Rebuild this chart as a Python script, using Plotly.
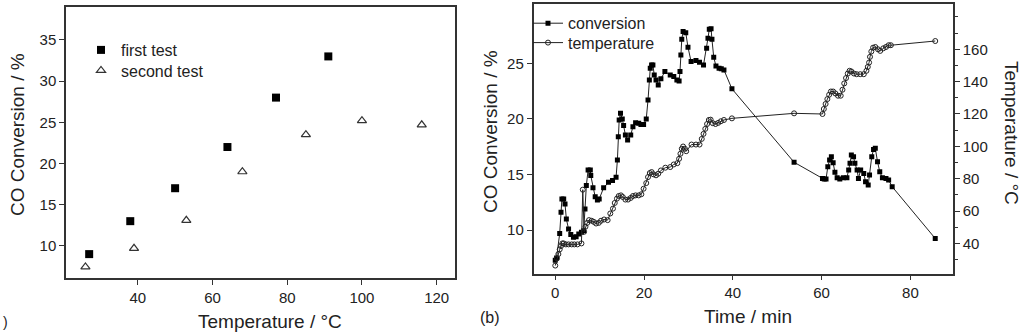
import plotly.graph_objects as go

# ---- panel (a) data ----
temp_first = [27, 38, 50, 64, 77, 91]
conv_first = [9.0, 13.0, 17.0, 22.0, 28.0, 33.0]
temp_second = [26, 39, 53, 68, 85, 100, 116]
conv_second = [7.45, 9.7, 13.1, 19.0, 23.5, 25.2, 24.7]

# ---- panel (b) data ----
time_conv = [0, 0.3, 1.0, 1.3, 1.5, 1.9, 2.2, 2.5, 3.0, 3.5, 4.1, 4.7, 5.3, 5.9, 6.4, 6.7, 7.0, 7.4, 7.9, 8.0,
             8.5, 9.0, 9.5, 9.9, 10.9, 12.0, 12.9, 13.7, 14.0, 14.2, 14.4, 14.7, 15.1, 15.4, 15.8, 16.3, 17.0,
             17.5, 18.1, 18.8, 19.3, 19.9, 20.5, 20.9, 21.2, 21.4, 21.7, 22.0, 22.3, 22.7, 23.2, 23.8, 24.7,
             25.9, 26.7, 27.4, 27.9, 28.1, 28.3, 28.5, 28.8, 29.4, 29.9, 30.6, 31.7, 32.5, 33.4, 34.1, 34.4,
             34.7, 35.1, 35.3, 35.7, 36.2, 36.9, 37.4, 38.0, 39.8, 53.8, 60.2, 60.6, 61.0, 61.4, 61.8, 62.2,
             62.6, 63.0, 63.5, 64.1, 64.9, 65.7, 66.1, 66.4, 66.7, 67.2, 67.5, 68.0, 68.3, 68.8, 69.5, 69.9,
             70.5, 70.8, 71.3, 71.7, 72.1, 72.6, 73.1, 73.7, 74.5, 75.1, 75.9, 85.6]
conversion = [7.3, 7.5, 9.7, 11.6, 12.8, 12.8, 12.35, 11.0, 10.1, 9.6, 9.35, 9.4, 9.65, 9.8, 9.95, 11.9, 14.0,
              15.4, 15.4, 14.9, 13.8, 13.0, 12.7, 12.8, 13.8, 14.3, 14.45, 14.75, 16.3, 18.4, 19.9, 20.5, 20.0,
              19.4, 18.55, 18.1, 18.55, 19.3, 19.65, 19.6, 19.5, 19.5, 20.0, 21.7, 23.5, 24.55, 24.85, 24.85,
              23.95, 23.5, 23.05, 23.6, 24.25, 23.95, 23.8, 23.5, 23.4, 24.25, 25.75, 27.15, 27.85, 27.75,
              26.45, 25.15, 25.25, 25.1, 24.85, 26.35, 27.25, 28.05, 28.1, 27.15, 25.55, 24.75, 24.55, 24.5,
              24.4, 22.7, 16.1, 14.65, 14.6, 14.6, 15.7, 16.3, 16.6, 16.05, 15.2, 14.7, 14.6, 14.7, 14.7, 15.4,
              16.0, 16.75, 16.6, 16.0, 15.4, 14.65, 15.4, 15.1, 14.35, 14.05, 14.95, 16.6, 17.25, 17.35, 16.15,
              15.25, 14.7, 14.65, 14.5, 13.9, 9.25]

time_temp = [0, 0.4, 0.7, 1.0, 1.3, 1.6, 1.9, 2.4, 3.0, 3.7, 4.3, 5.0, 5.9, 6.2, 6.5, 6.8, 7.2, 7.6, 8.2, 8.7,
             9.2, 9.8, 10.3, 11.0, 11.8, 12.4, 13.0, 13.4, 13.9, 14.3, 14.8, 15.2, 15.8, 16.4, 17.0, 17.5, 18.1,
             18.8, 19.4, 19.9, 20.5, 20.9, 21.3, 21.7, 22.1, 22.7, 23.2, 23.8, 24.8, 25.9, 26.7, 27.5, 27.9,
             28.2, 28.5, 28.8, 29.2, 29.5, 30.7, 31.7, 32.5, 33.0, 33.4, 33.8, 34.2, 34.6, 35.0, 35.5, 36.1,
             36.7, 37.3, 38.0, 39.8, 53.8, 60.2, 60.5, 60.9, 61.3, 61.7, 62.1, 62.6, 63.1, 63.7, 64.3, 64.7,
             65.1, 65.5, 65.9, 66.3, 66.7, 67.3, 67.9, 68.7, 69.5, 70.1, 70.4, 70.7, 70.9, 71.2, 71.6, 72.1,
             72.7, 73.2, 73.9, 74.5, 75.1, 75.6, 85.6]
temperature = [26.3, 30.8, 33.4, 36.3, 38.4, 40.0, 40.0, 39.4, 39.4, 39.4, 39.4, 39.4, 40.0, 73.2, 47.2, 50.3,
               52.7, 54.4, 54.0, 53.3, 52.3, 52.7, 54.0, 54.8, 54.4, 58.5, 61.5, 65.0, 67.7, 69.3, 69.7, 68.7,
               67.1, 67.1, 68.1, 69.3, 69.7, 69.7, 70.4, 73.8, 77.3, 81.0, 83.5, 84.1, 82.7, 82.1, 83.1, 85.1,
               86.8, 87.2, 88.8, 89.6, 92.3, 95.4, 98.5, 99.9, 98.5, 97.0, 101.1, 101.1, 101.1, 104.6, 107.7,
               110.8, 113.8, 116.3, 116.5, 114.3, 113.8, 114.5, 115.5, 116.3, 117.3, 120.4, 120.0, 123.1, 126.2,
               129.2, 131.9, 133.9, 133.9, 132.7, 131.3, 131.3, 135.0, 138.9, 142.2, 145.0, 146.7, 146.3, 145.0,
               144.6, 144.6, 144.6, 146.7, 149.1, 151.8, 155.3, 158.6, 161.0, 161.4, 160.0, 159.0, 160.6, 161.4,
               162.5, 162.5, 165.1]

W, H = 1024, 335
TXT = "#222222"
AX = "#333333"
FONT = "Liberation Sans, Arial, sans-serif"


def px(x):
    return x / W


def py(y):
    return 1 - y / H


fig = go.Figure()

# panel (a)
fig.add_trace(go.Scatter(x=temp_first, y=conv_first, mode="markers", name="first test",
                         marker=dict(symbol="square", size=8, color="black"),
                         xaxis="x", yaxis="y", legend="legend"))
fig.add_trace(go.Scatter(x=temp_second, y=conv_second, mode="markers", name="second test",
                         marker=dict(symbol="triangle-up-open", size=8, color="#333333", line=dict(width=1.2)),
                         xaxis="x", yaxis="y", legend="legend2"))

# panel (b)
fig.add_trace(go.Scatter(x=time_conv, y=conversion, mode="lines+markers", name="conversion",
                         line=dict(color="#222222", width=1),
                         marker=dict(symbol="square", size=5, color="black"),
                         xaxis="x2", yaxis="y2", legend="legend3"))
fig.add_trace(go.Scatter(x=time_temp, y=temperature, mode="lines+markers", name="temperature",
                         line=dict(color="#222222", width=1),
                         marker=dict(symbol="circle-open", size=5, color="#222222", line=dict(width=1)),
                         xaxis="x2", yaxis="y3", legend="legend4"))

common = dict(showline=True, linecolor=AX, linewidth=1.5, ticks="outside", ticklen=5, tickwidth=1,
              tickcolor=AX, showgrid=False, zeroline=False, automargin=False,
              tickfont=dict(family=FONT, size=15, color=TXT))

leg = dict(xanchor="left", yanchor="middle", bgcolor="rgba(0,0,0,0)", borderwidth=0,
           font=dict(family=FONT, size=16, color=TXT), itemwidth=30)

fig.update_layout(
    width=W, height=H, margin=dict(l=0, r=0, t=0, b=0, pad=0),
    paper_bgcolor="white", plot_bgcolor="white",
    font=dict(family=FONT, color=TXT),
    showlegend=True,
    xaxis=dict(domain=[px(66), px(455)], range=[20.8, 124.9], tickvals=[40, 60, 80, 100, 120],
               mirror=True, anchor="y", **common),
    yaxis=dict(domain=[py(278), py(7)], range=[6.1, 39.0], tickvals=[10, 15, 20, 25, 30, 35],
               mirror=True, anchor="x", **common),
    xaxis2=dict(domain=[px(533.5), px(953)], range=[-4.9, 89.6], tickvals=[0, 20, 40, 60, 80],
                mirror=True, anchor="y2", **common),
    yaxis2=dict(domain=[py(273.5), py(4.3)], range=[6.1, 30.3], tickvals=[10, 15, 20, 25],
                anchor="x2", **common),
    yaxis3=dict(range=[21.4, 187.8], tickvals=[40, 60, 80, 100, 120, 140, 160], overlaying="y2",
                side="right", anchor="x2",
                minor=dict(dtick=10, ticklen=3, ticks="outside", tickcolor=AX), **common),
    legend=dict(x=px(81), y=py(50), **leg),
    legend2=dict(x=px(81), y=py(70.5), **leg),
    legend3=dict(x=px(528), y=py(23.3), **leg),
    legend4=dict(x=px(528), y=py(42.7), **leg),
)

ann = [
    dict(text="CO Conversion / %", x=17, y=135, textangle=-90, size=19),
    dict(text="Temperature / °C", x=270, y=321, textangle=0, size=19),
    dict(text="CO Conversion / %", x=490, y=132, textangle=-90, size=19),
    dict(text="Time / min", x=748, y=316, textangle=0, size=19),
    dict(text="Temperature / °C", x=1012, y=133, textangle=90, size=19),
    dict(text="(b)", x=489.5, y=317, textangle=0, size=16),
    dict(text=")", x=5, y=322, textangle=0, size=14),
]
for a in ann:
    fig.add_annotation(text=a["text"], x=px(a["x"]), y=py(a["y"]), xref="paper", yref="paper",
                       showarrow=False, textangle=a["textangle"], xanchor="center", yanchor="middle",
                       font=dict(family=FONT, size=a["size"], color=TXT))

fig.write_html("out.html", config={"displayModeBar": False},
               post_script="document.body.style.margin='0px';document.body.style.overflow='hidden';")
